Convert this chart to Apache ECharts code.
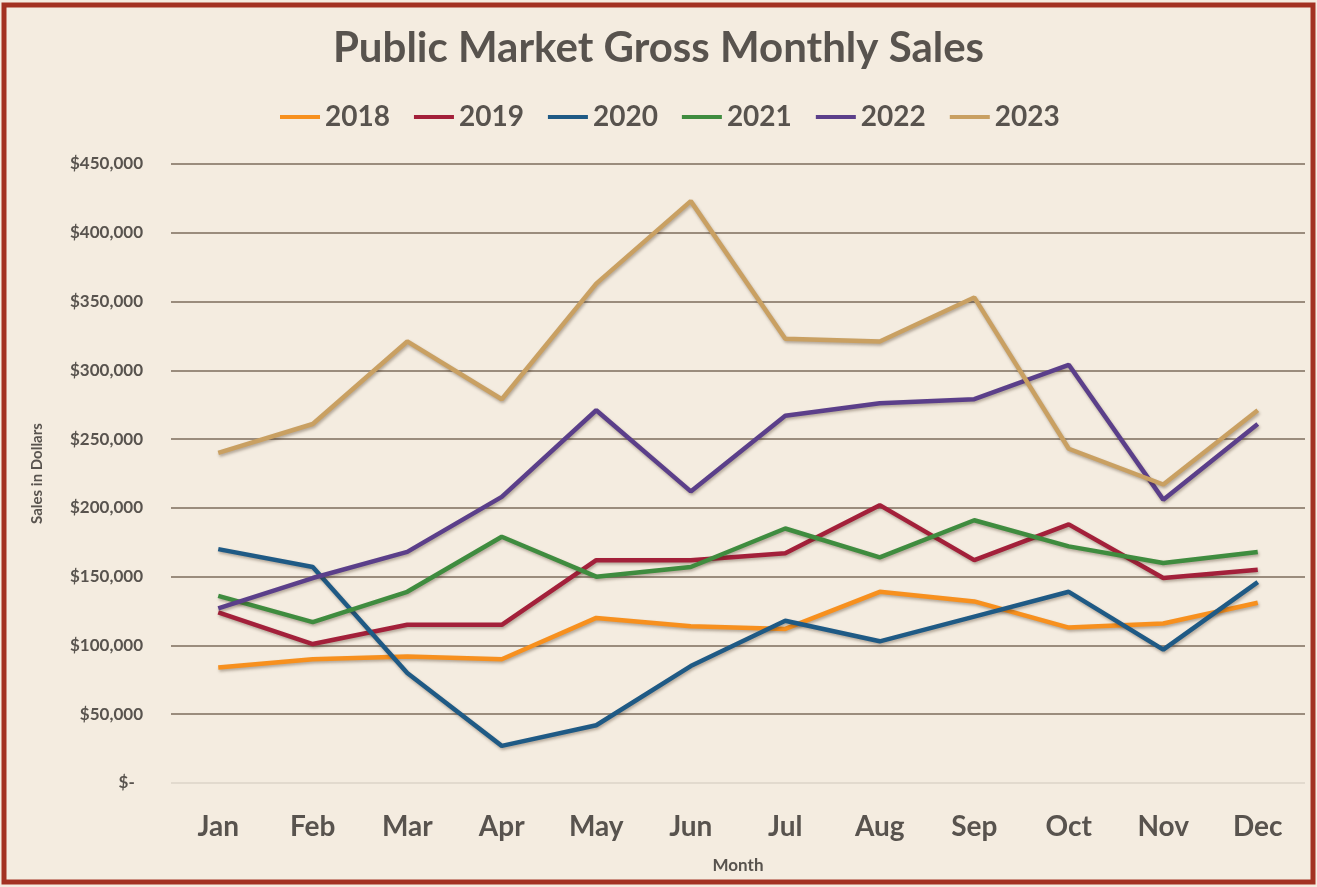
<!DOCTYPE html>
<html>
<head>
<meta charset="utf-8">
<script src="https://cdn.jsdelivr.net/npm/echarts@6/dist/echarts.min.js"></script>
<style>
html,body{margin:0;padding:0;background:#ffffff;}
#chart{width:1317px;height:887px;}
</style>
</head>
<body>
<div id="chart"></div>
<script>
const months = ['Jan','Feb','Mar','Apr','May','Jun','Jul','Aug','Sep','Oct','Nov','Dec'];
const years = ['2018','2019','2020','2021','2022','2023'];
const s2018 = [84000, 90000, 92000, 90000, 120000, 114000, 112000, 139000, 132000, 113000, 116000, 131000];
const s2019 = [124000, 101000, 115000, 115000, 162000, 162000, 167000, 202000, 162000, 188000, 149000, 155000];
const s2020 = [170000, 157000, 80000, 27000, 42000, 85000, 118000, 103000, 121000, 139000, 97000, 146000];
const s2021 = [136000, 117000, 139000, 179000, 150000, 157000, 185000, 164000, 191000, 172000, 160000, 168000];
const s2022 = [127000, 149000, 168000, 208000, 271000, 212000, 267000, 276000, 279000, 304000, 206000, 261000];
const s2023 = [240000, 261000, 321000, 279000, 363000, 423000, 323000, 321000, 353000, 243000, 217000, 271000];
const seriesValues = [s2018, s2019, s2020, s2021, s2022, s2023];
const colors = ['#f7901e', '#a3203a', '#1f5a85', '#3f8c3f', '#5b3f8a', '#c9a062'];

const chart = echarts.init(document.getElementById('chart'));
const txt = '#58534e';
chart.setOption({
  backgroundColor: '#f4ece0',
  color: colors,
  animation: false,
  graphic: [{
    type: 'rect',
    shape: {x: 4, y: 5, width: 1309, height: 877},
    style: {fill: 'none', stroke: '#a33222', lineWidth: 5},
    z: 100
  }],
  title: {
    text: 'Public Market Gross Monthly Sales',
    left: 'center',
    top: 22,
    textStyle: {fontFamily: 'Lato', fontWeight: 'bold', fontSize: 42, color: txt}
  },
  legend: {
    top: 98,
    left: 275,
    itemWidth: 40,
    itemHeight: 4,
    itemGap: 24,
    icon: 'rect',
    data: years,
    textStyle: {fontFamily: 'Lato', fontWeight: 'bold', fontSize: 28, color: txt}
  },
  grid: {left: 171, right: 12, top: 164, bottom: 104},
  xAxis: {
    type: 'category',
    data: months,
    boundaryGap: true,
    name: 'Month',
    nameLocation: 'middle',
    nameGap: 74,
    nameTextStyle: {fontFamily: 'Lato', fontWeight: 'bold', fontSize: 17, color: txt},
    axisLine: {show: false},
    axisTick: {show: false},
    axisLabel: {margin: 30, fontFamily: 'Lato', fontWeight: 'bold', fontSize: 28, color: txt}
  },
  yAxis: {
    type: 'value',
    min: 0,
    max: 450000,
    interval: 50000,
    name: 'Sales in Dollars',
    nameLocation: 'middle',
    nameGap: 126,
    nameTextStyle: {fontFamily: 'Lato', fontWeight: 'bold', fontSize: 15, color: txt},
    axisLine: {show: false},
    axisTick: {show: false},
    axisLabel: {
      margin: 28,
      fontFamily: 'Lato', fontWeight: 'bold', fontSize: 17, color: txt,
      formatter: function (v) { return v === 0 ? '$-  ' : '$' + v.toLocaleString('en-US'); }
    },
    splitLine: {lineStyle: {color: ['#ddd5c9','#7d6d5c','#7d6d5c','#7d6d5c','#7d6d5c','#7d6d5c','#7d6d5c','#7d6d5c','#7d6d5c','#7d6d5c'], width: 1.5}}
  },
  series: years.map((y, i) => ({
    name: y,
    type: 'line',
    data: seriesValues[i],
    symbol: 'none',
    lineStyle: {width: 4.5, shadowColor: 'rgba(60,40,20,0.35)', shadowBlur: 3, shadowOffsetY: 2, shadowOffsetX: 1}
  }))
});
</script>
</body>
</html>
